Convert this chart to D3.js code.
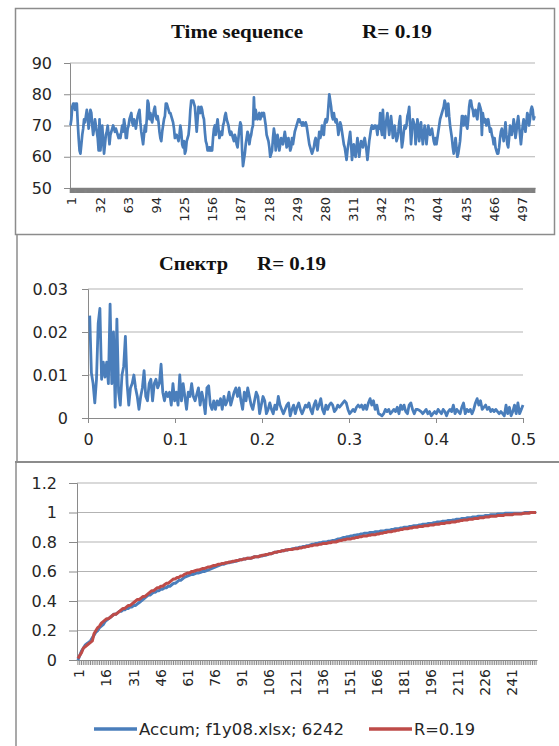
<!DOCTYPE html>
<html>
<head>
<meta charset="utf-8">
<script src="https://cdnjs.cloudflare.com/ajax/libs/d3/7.8.5/d3.min.js"></script>
<style>
body { margin: 0; background: #fff; }
svg text { font-family: "DejaVu Sans", sans-serif; fill: #262626; }
svg .title { font-family: "Liberation Serif", serif; font-weight: bold; fill: #111; }
</style>
</head>
<body>
<script>
// ---- data ----
// time sequence, 512 samples
var seqValues = [
  70,72,76,77,77,75,77,77,71,66,62,61,64,67,69,72,71,73,75,73,69,72,75,74,70,67,69,72,70,68,66,
  62,72,62,66,70,65,61,64,67,68,70,67,64,67,68,69,70,69,68,69,68,67,66,67,66,68,70,68,72,70,66,
  66,69,70,72,73,74,71,70,72,71,69,71,73,74,75,71,68,66,64,67,70,68,72,78,77,72,74,72,71,73,75,
  76,73,72,73,71,68,66,65,68,70,72,73,77,77,76,75,74,74,73,72,71,69,66,67,67,66,65,67,70,68,64,
  63,65,61,62,65,66,67,70,75,78,78,78,77,76,72,68,72,76,75,74,76,75,73,72,68,65,64,62,62,63,62,
  63,62,66,69,70,67,70,72,69,66,67,68,67,70,71,73,74,72,71,70,68,67,68,67,66,65,67,66,64,63,66,
  69,71,70,62,57,59,61,64,66,68,67,64,66,67,69,70,79,72,75,73,72,73,74,72,73,74,73,74,72,70,67,
  66,65,63,60,61,62,66,69,67,62,64,67,65,62,64,66,65,64,66,68,66,63,64,66,64,62,63,66,64,66,68,
  69,70,71,72,72,71,71,70,71,70,70,71,70,68,66,64,63,62,61,62,63,65,66,64,62,65,68,66,67,70,69,
  67,71,72,71,72,76,80,78,76,73,72,74,72,71,72,70,67,69,71,70,68,66,64,63,61,59,62,64,66,68,64,
  59,62,64,61,60,63,66,63,60,63,65,64,63,65,66,64,62,59,62,65,67,69,70,69,69,70,70,69,67,70,69,
  74,69,67,75,70,66,70,72,74,70,67,70,73,70,66,68,70,67,65,66,68,71,73,67,63,65,68,70,69,70,73,
  74,76,70,64,68,72,71,70,64,67,72,70,65,68,71,67,64,67,70,68,64,67,70,68,67,68,69,67,65,64,66,
  64,66,68,70,72,73,74,75,76,78,77,73,75,77,73,70,68,66,63,61,63,66,63,60,61,63,65,69,73,73,70,
  72,73,70,69,72,76,78,78,76,75,73,74,75,73,72,75,77,76,75,67,74,72,71,72,70,71,72,70,68,69,67,
  66,64,66,63,62,61,61,63,66,68,69,67,65,68,71,67,64,63,66,70,69,67,69,72,70,66,68,71,73,70,67,
  64,67,70,72,70,68,71,74,73,70,72,75,76,75,72,73
];
var seqYTicks = [50, 60, 70, 80, 90];
var seqXLabels = [1, 32, 63, 94, 125, 156, 187, 218, 249, 280, 311, 342, 373, 404, 435, 466, 497];

// spectrum, 256 values at frequencies k/512
var specValues = [
  0.0238,0.0105,0.008,0.0035,0.009,0.022,0.0255,0.009,0.013,0.0095,
  0.013,0.008,0.0265,0.008,0.020,0.0025,0.023,0.006,0.003,0.010,
  0.012,0.019,0.008,0.003,0.007,0.008,0.010,0.007,0.005,0.002,
  0.005,0.007,0.011,0.005,0.004,0.008,0.009,0.004,0.008,0.009,
  0.007,0.008,0.0125,0.006,0.004,0.006,0.005,0.006,0.003,0.008,
  0.004,0.006,0.003,0.010,0.004,0.008,0.005,0.002,0.006,0.005,
  0.008,0.005,0.004,0.0055,0.007,0.003,0.006,0.004,0.001,0.007,
  0.0075,0.003,0.002,0.004,0.002,0.004,0.003,0.0045,0.002,0.005,
  0.003,0.004,0.006,0.003,0.0045,0.006,0.007,0.005,0.007,0.004,
  0.002,0.006,0.004,0.007,0.005,0.003,0.002,0.004,0.006,0.005,
  0.001,0.003,0.005,0.004,0.001,0.002,0.0035,0.002,0.001,0.003,
  0.002,0.005,0.003,0.002,0.001,0.002,0.003,0.0035,0.0005,0.002,
  0.003,0.001,0.0025,0.0035,0.002,0.001,0.002,0.003,0.0025,0.0035,
  0.002,0.001,0.003,0.004,0.002,0.003,0.0045,0.002,0.001,0.003,
  0.002,0.003,0.0035,0.003,0.0015,0.002,0.003,0.0025,0.003,0.0035,
  0.004,0.0035,0.002,0.001,0.0015,0.002,0.0015,0.0025,0.003,0.0025,
  0.003,0.002,0.003,0.002,0.0035,0.0045,0.003,0.004,0.002,0.003,
  0.001,0.0008,0.0005,0.001,0.002,0.0015,0.002,0.001,0.0015,0.002,
  0.0015,0.0025,0.001,0.003,0.002,0.003,0.0015,0.001,0.003,0.0035,
  0.002,0.001,0.002,0.002,0.0018,0.0015,0.001,0.0015,0.002,0.001,
  0.0015,0.0005,0.001,0.0015,0.001,0.002,0.0015,0.001,0.002,0.0015,
  0.0005,0.0015,0.002,0.0015,0.003,0.001,0.002,0.0015,0.001,0.0025,
  0.0035,0.001,0.002,0.0015,0.002,0.001,0.002,0.0035,0.0045,0.003,
  0.004,0.002,0.0025,0.003,0.002,0.0025,0.0015,0.002,0.0015,0.002,
  0.0015,0.001,0.0015,0.001,0.0005,0.003,0.001,0.0025,0.0005,0.0015,
  0.003,0.001,0.0035,0.001,0.002,0.003
];
var specYTicks = [0, 0.01, 0.02, 0.03];
var specXTicks = [0, 0.1, 0.2, 0.3, 0.4, 0.5];

// accumulated curves, 255 categories
var accumBlue = [
  0.0,0.03,0.06,0.08,0.10,0.11,0.12,0.13,0.15,0.17,0.19,0.20,0.22,0.23,0.24,
  0.26,0.27,0.28,0.29,0.30,0.31,0.31,0.32,0.33,0.33,0.34,0.34,0.35,0.35,0.36,
  0.36,0.37,0.37,0.38,0.39,0.40,0.41,0.42,0.43,0.44,0.44,0.45,0.46,0.46,0.47,
  0.47,0.48,0.48,0.49,0.49,0.50,0.50,0.51,0.52,0.52,0.53,0.54,0.54,0.55,0.56,
  0.565,0.57,0.575,0.58,0.58,0.585,0.59,0.59,0.595,0.60,0.60,0.605,0.61,0.615,0.62,
  0.625,0.63,0.635,0.64,0.645,0.65,0.65,0.655,0.66,0.66,0.665,0.665,0.67,0.67,0.675,
  0.68,0.68,0.685,0.685,0.69,0.69,0.69,0.695,0.70,0.70,0.70,0.705,0.705,0.71,0.71,
  0.715,0.72,0.72,0.725,0.73,0.73,0.735,0.735,0.74,0.74,0.745,0.745,0.75,0.75,0.755,
  0.755,0.76,0.76,0.765,0.765,0.77,0.77,0.775,0.775,0.78,0.785,0.785,0.79,0.79,0.795,
  0.795,0.80,0.80,0.80,0.805,0.805,0.81,0.81,0.815,0.82,0.82,0.825,0.83,0.83,0.835,
  0.835,0.84,0.84,0.845,0.845,0.85,0.85,0.855,0.855,0.86,0.86,0.86,0.865,0.865,0.865,
  0.87,0.87,0.87,0.875,0.875,0.875,0.88,0.88,0.88,0.885,0.885,0.89,0.89,0.89,0.895,
  0.895,0.90,0.90,0.90,0.905,0.905,0.91,0.91,0.91,0.915,0.915,0.92,0.92,0.92,0.925,
  0.925,0.925,0.93,0.93,0.935,0.935,0.935,0.94,0.94,0.94,0.945,0.945,0.945,0.95,0.95,
  0.955,0.955,0.955,0.96,0.96,0.96,0.965,0.965,0.965,0.97,0.97,0.97,0.975,0.975,0.975,
  0.975,0.98,0.98,0.98,0.985,0.985,0.985,0.985,0.99,0.99,0.99,0.99,0.995,0.995,0.995,
  0.995,0.995,0.995,0.995,0.995,0.995,0.995,0.995,1.0,1.0,1.0,1.0,1.0,1.0,1.0
];
var accumRed = [
  0.01,0.03,0.05,0.08,0.09,0.10,0.11,0.12,0.13,0.18,0.20,0.22,0.23,0.25,0.26,
  0.27,0.28,0.28,0.29,0.30,0.31,0.31,0.32,0.33,0.34,0.35,0.35,0.36,0.37,0.37,
  0.38,0.39,0.40,0.41,0.41,0.42,0.43,0.43,0.44,0.45,0.46,0.47,0.47,0.48,0.49,
  0.49,0.50,0.50,0.51,0.52,0.52,0.53,0.54,0.55,0.55,0.56,0.56,0.57,0.57,0.58,
  0.585,0.59,0.59,0.60,0.60,0.605,0.61,0.61,0.615,0.62,0.62,0.625,0.63,0.63,0.635,
  0.64,0.64,0.645,0.65,0.65,0.655,0.655,0.66,0.66,0.665,0.665,0.67,0.67,0.675,0.675,
  0.68,0.68,0.685,0.685,0.69,0.69,0.69,0.695,0.70,0.70,0.70,0.705,0.71,0.71,0.715,
  0.715,0.72,0.72,0.725,0.73,0.73,0.735,0.735,0.74,0.74,0.745,0.745,0.75,0.75,0.75,
  0.755,0.755,0.755,0.76,0.76,0.765,0.765,0.77,0.77,0.775,0.775,0.78,0.78,0.78,0.785,
  0.785,0.79,0.79,0.79,0.795,0.795,0.80,0.80,0.80,0.805,0.81,0.81,0.815,0.815,0.82,
  0.82,0.82,0.825,0.825,0.83,0.83,0.835,0.835,0.84,0.84,0.84,0.845,0.845,0.85,0.85,
  0.85,0.855,0.855,0.86,0.86,0.865,0.865,0.87,0.87,0.87,0.875,0.875,0.88,0.88,0.885,
  0.885,0.89,0.89,0.89,0.895,0.895,0.90,0.90,0.90,0.905,0.905,0.905,0.91,0.91,0.91,
  0.915,0.915,0.915,0.92,0.92,0.92,0.925,0.925,0.925,0.93,0.93,0.93,0.935,0.935,0.935,
  0.94,0.94,0.945,0.945,0.95,0.95,0.95,0.955,0.955,0.955,0.96,0.96,0.96,0.965,0.965,
  0.965,0.97,0.97,0.97,0.975,0.975,0.975,0.975,0.98,0.98,0.98,0.98,0.985,0.985,0.985,
  0.985,0.985,0.99,0.99,0.99,0.99,0.99,0.995,0.995,0.995,0.995,1.0,1.0,1.0,1.0
];
var accumYTicks = [0, 0.2, 0.4, 0.6, 0.8, 1, 1.2];
var accumXLabels = [1, 16, 31, 46, 61, 76, 91, 106, 121, 136, 151, 166, 181, 196, 211, 226, 241];
var legendNames = ['Accum; f1y08.xlsx; 6242', 'R=0.19'];

// ---- styles ----
var blue = '#4a7ebb', red = '#be4b48';
var gridCol = '#b3b3b3', axisCol = '#8a8a8a', frameCol = '#8c8c8c';

var svg = d3.select('body').append('svg')
    .attr('width', 559)
    .attr('height', 746);

// panel frames
svg.append('rect')
    .attr('x', 15.5).attr('y', 8.5)
    .attr('width', 539).attr('height', 226)
    .attr('fill', 'none').attr('stroke', frameCol).attr('stroke-width', 1.5);
svg.append('line').attr('x1', 17).attr('x2', 17).attr('y1', 235).attr('y2', 462)
    .attr('stroke', frameCol).attr('stroke-width', 1.5);
svg.append('line').attr('x1', 15).attr('x2', 559).attr('y1', 462).attr('y2', 462)
    .attr('stroke', frameCol).attr('stroke-width', 2);
svg.append('line').attr('x1', 16).attr('x2', 16).attr('y1', 462).attr('y2', 746)
    .attr('stroke', frameCol).attr('stroke-width', 1.5);

function styleAxis(g, size) {
    g.select('.domain').attr('stroke', axisCol);
    g.selectAll('.tick line').attr('stroke', axisCol);
    g.selectAll('.tick text')
        .attr('font-family', '"DejaVu Sans", sans-serif')
        .attr('font-size', size)
        .attr('fill', '#262626');
}

function title(parts, y) {
    parts.forEach(function(p) {
        svg.append('text').attr('class', 'title')
            .attr('x', p.x).attr('y', y)
            .attr('font-size', 18)
            .attr('textLength', p.w).attr('lengthAdjust', 'spacingAndGlyphs')
            .text(p.t);
    });
}

// ================= panel 1 : time sequence =================
title([{t: 'Time sequence', x: 171, w: 132}, {t: 'R= 0.19', x: 362, w: 70}], 38);

var x1 = d3.scaleBand().domain(d3.range(1, seqValues.length + 1)).range([70, 535]);
var y1 = d3.scaleLinear().domain([50, 90]).range([188, 63]);

svg.append('g').selectAll('line').data(seqYTicks.slice(1)).enter().append('line')
    .attr('x1', 70).attr('x2', 535)
    .attr('y1', function(d) { return y1(d); }).attr('y2', function(d) { return y1(d); })
    .attr('stroke', gridCol).attr('stroke-width', 1);

var gy1 = svg.append('g').attr('transform', 'translate(70,0)')
    .call(d3.axisLeft(y1).tickValues(seqYTicks).tickSize(6).tickPadding(12));
styleAxis(gy1, 16);

var gx1 = svg.append('g').attr('transform', 'translate(0,188)')
    .call(d3.axisBottom(x1).tickValues(x1.domain()).tickSize(5).tickSizeOuter(0).tickFormat(''));
styleAxis(gx1, 13);
gx1.select('.domain').attr('stroke-width', 1.5);
gx1.selectAll('.tick line').attr('stroke', '#808080').attr('stroke-width', 1.6);

svg.append('g').selectAll('text').data(seqXLabels).enter().append('text')
    .attr('transform', function(d) {
        return 'translate(' + (x1(d) + x1.bandwidth() / 2 + 1.5) + ',197) rotate(-90)';
    })
    .attr('text-anchor', 'end').attr('dominant-baseline', 'central')
    .attr('font-size', 13)
    .text(function(d) { return d; });

svg.append('path')
    .datum(seqValues)
    .attr('fill', 'none').attr('stroke', blue).attr('stroke-width', 2.7)
    .attr('stroke-linejoin', 'round')
    .attr('d', d3.line()
        .x(function(d, i) { return x1(i + 1) + x1.bandwidth() / 2; })
        .y(function(d) { return y1(d); }));

// ================= panel 2 : spectrum =================
title([{t: 'Спектр', x: 159, w: 69}, {t: 'R= 0.19', x: 257, w: 69}], 270);

var x2 = d3.scaleLinear().domain([0, 0.5]).range([88, 523]);
var y2 = d3.scaleLinear().domain([0, 0.03]).range([418, 289]);

svg.append('g').selectAll('line').data(specYTicks.slice(1)).enter().append('line')
    .attr('x1', 88).attr('x2', 523)
    .attr('y1', function(d) { return y2(d); }).attr('y2', function(d) { return y2(d); })
    .attr('stroke', gridCol).attr('stroke-width', 1);

var gy2 = svg.append('g').attr('transform', 'translate(88,0)')
    .call(d3.axisLeft(y2).tickValues(specYTicks).tickSize(6).tickPadding(14)
        .tickFormat(function(d) { return d === 0 ? '0' : d3.format('.2f')(d); }));
styleAxis(gy2, 16);

var gx2 = svg.append('g').attr('transform', 'translate(0,418)')
    .call(d3.axisBottom(x2).tickValues(specXTicks).tickSize(5).tickSizeOuter(0).tickPadding(11)
        .tickFormat(function(d) { return d === 0 ? '0' : d3.format('.1f')(d); }));
styleAxis(gx2, 16);

svg.append('path')
    .datum(specValues)
    .attr('fill', 'none').attr('stroke', blue).attr('stroke-width', 2.8)
    .attr('stroke-linejoin', 'round')
    .attr('d', d3.line()
        .x(function(d, i) { return x2((i + 1) / 512); })
        .y(function(d) { return y2(d); }));

// ================= panel 3 : accumulated =================
var x3 = d3.scaleBand().domain(d3.range(1, accumBlue.length + 1)).range([77, 537]);
var y3 = d3.scaleLinear().domain([0, 1.2]).range([660, 483]);

svg.append('g').selectAll('line').data(accumYTicks.slice(1)).enter().append('line')
    .attr('x1', 77).attr('x2', 537)
    .attr('y1', function(d) { return y3(d); }).attr('y2', function(d) { return y3(d); })
    .attr('stroke', gridCol).attr('stroke-width', 1);

var gy3 = svg.append('g').attr('transform', 'translate(77,0)')
    .call(d3.axisLeft(y3).tickValues(accumYTicks).tickSize(8).tickPadding(12)
        .tickFormat(function(d) { return String(d); }));
styleAxis(gy3, 16);

var gx3 = svg.append('g').attr('transform', 'translate(0,660)')
    .call(d3.axisBottom(x3).tickValues(x3.domain()).tickSize(5).tickSizeOuter(0).tickFormat(''));
styleAxis(gx3, 14);

svg.append('g').selectAll('text').data(accumXLabels).enter().append('text')
    .attr('transform', function(d) {
        return 'translate(' + (x3(d) + x3.bandwidth() / 2 + 1.5) + ',669) rotate(-90)';
    })
    .attr('text-anchor', 'end').attr('dominant-baseline', 'central')
    .attr('font-size', 14)
    .text(function(d) { return d; });

var line3 = d3.line()
    .x(function(d, i) { return x3(i + 1) + x3.bandwidth() / 2; })
    .y(function(d) { return y3(d); });

svg.append('path').datum(accumBlue)
    .attr('fill', 'none').attr('stroke', blue).attr('stroke-width', 3)
    .attr('stroke-linejoin', 'round').attr('d', line3);
svg.append('path').datum(accumRed)
    .attr('fill', 'none').attr('stroke', red).attr('stroke-width', 3)
    .attr('stroke-linejoin', 'round').attr('d', line3);

// legend
var legend = [
    {name: legendNames[0], color: blue, x: 94, w: 205},
    {name: legendNames[1], color: red, x: 369, w: 61}
];
legend.forEach(function(l) {
    svg.append('line')
        .attr('x1', l.x).attr('x2', l.x + 43)
        .attr('y1', 729).attr('y2', 729)
        .attr('stroke', l.color).attr('stroke-width', 3.5);
    svg.append('text')
        .attr('x', l.x + 45).attr('y', 735)
        .attr('font-size', 16)
        .attr('textLength', l.w).attr('lengthAdjust', 'spacingAndGlyphs')
        .text(l.name);
});
</script>
</body>
</html>
